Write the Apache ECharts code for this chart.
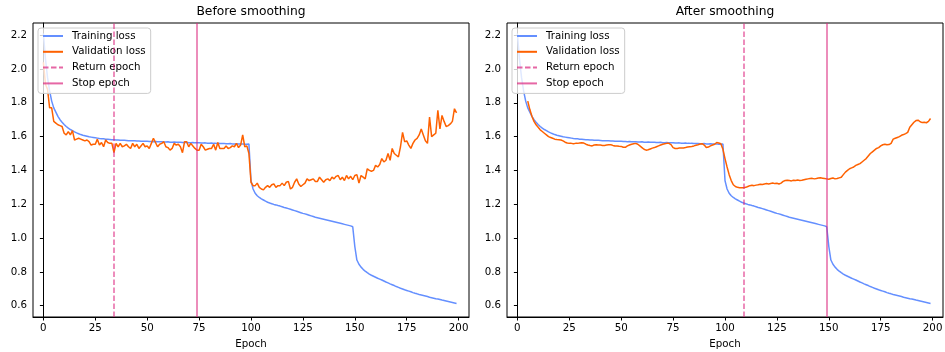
<!DOCTYPE html>
<html>
<head>
<meta charset="utf-8">
<script src="https://cdn.jsdelivr.net/npm/echarts@6/dist/echarts.min.js"></script>
<style>
  html, body { margin: 0; padding: 0; background: #fff; }
  #chart { width: 945px; height: 352px; }
</style>
</head>
<body>
<div id="chart"></div>
<script>
// epochs are the array index (0..199)
const trainLoss = [
  2.21, 2.06, 1.95, 1.87, 1.81, 1.77, 1.745, 1.72, 1.70, 1.685,
  1.672, 1.66, 1.65, 1.642, 1.635, 1.628, 1.622, 1.617, 1.612, 1.608,
  1.605, 1.602, 1.599, 1.597, 1.595, 1.593, 1.591, 1.589, 1.588, 1.587,
  1.585, 1.584, 1.583, 1.582, 1.581, 1.580, 1.580, 1.579, 1.578, 1.578,
  1.577, 1.576, 1.576, 1.575, 1.575, 1.574, 1.574, 1.573, 1.573, 1.572,
  1.572, 1.571, 1.571, 1.570, 1.571, 1.569, 1.569, 1.570, 1.568, 1.568,
  1.569, 1.567, 1.567, 1.568, 1.566, 1.566, 1.567, 1.565, 1.565, 1.566,
  1.564, 1.564, 1.565, 1.563, 1.563, 1.564, 1.562, 1.562, 1.563, 1.561,
  1.561, 1.562, 1.560, 1.560, 1.561, 1.559, 1.559, 1.560, 1.558, 1.558,
  1.559, 1.557, 1.557, 1.558, 1.556, 1.556, 1.557, 1.555, 1.555, 1.556,
  1.34, 1.29, 1.265, 1.25, 1.24, 1.232, 1.225, 1.218, 1.212, 1.207,
  1.203, 1.199, 1.196, 1.192, 1.189, 1.185, 1.181, 1.178, 1.174, 1.170,
  1.166, 1.162, 1.158, 1.154, 1.150, 1.146, 1.143, 1.139, 1.135, 1.131,
  1.127, 1.123, 1.120, 1.117, 1.114, 1.111, 1.108, 1.105, 1.102, 1.099,
  1.096, 1.093, 1.090, 1.087, 1.084, 1.081, 1.078, 1.075, 1.072, 1.067,
  0.95, 0.87, 0.845, 0.828, 0.815, 0.804, 0.795, 0.787, 0.780, 0.774,
  0.768, 0.762, 0.757, 0.752, 0.746, 0.740, 0.735, 0.729, 0.724, 0.719,
  0.713, 0.708, 0.703, 0.699, 0.694, 0.690, 0.686, 0.682, 0.677, 0.673,
  0.670, 0.666, 0.663, 0.660, 0.657, 0.654, 0.650, 0.647, 0.644, 0.641,
  0.639, 0.636, 0.633, 0.631, 0.628, 0.625, 0.622, 0.619, 0.616, 0.613
]

const valLossRaw = [
  2.04, 1.91, 1.88, 1.77, 1.77, 1.69, 1.68, 1.67, 1.665, 1.66,
  1.62, 1.61, 1.63, 1.61, 1.635, 1.58, 1.585, 1.59, 1.585, 1.58,
  1.575, 1.58, 1.57, 1.55, 1.555, 1.555, 1.585, 1.55, 1.565, 1.54,
  1.58, 1.565, 1.56, 1.56, 1.505, 1.56, 1.54, 1.56, 1.54, 1.545,
  1.555, 1.54, 1.53, 1.56, 1.54, 1.555, 1.53, 1.545, 1.56, 1.54,
  1.545, 1.53, 1.56, 1.59, 1.565, 1.54, 1.555, 1.56, 1.57, 1.54,
  1.535, 1.52, 1.53, 1.56, 1.55, 1.555, 1.54, 1.505, 1.57, 1.57,
  1.54, 1.56, 1.545, 1.53, 1.52, 1.52, 1.555, 1.54, 1.52, 1.525,
  1.53, 1.53, 1.555, 1.52, 1.565, 1.53, 1.53, 1.53, 1.545, 1.53,
  1.535, 1.545, 1.54, 1.56, 1.535, 1.55, 1.61, 1.54, 1.545, 1.50,
  1.33, 1.31, 1.31, 1.325, 1.30, 1.29, 1.285, 1.30, 1.31, 1.30,
  1.315, 1.32, 1.30, 1.31, 1.31, 1.325, 1.31, 1.33, 1.335, 1.29,
  1.30, 1.33, 1.35, 1.32, 1.305, 1.315, 1.325, 1.35, 1.34, 1.345,
  1.35, 1.335, 1.335, 1.36, 1.345, 1.33, 1.345, 1.35, 1.34, 1.36,
  1.35, 1.365, 1.37, 1.345, 1.36, 1.34, 1.37, 1.35, 1.365, 1.345,
  1.37, 1.375, 1.325, 1.37, 1.36, 1.35, 1.41, 1.40, 1.395, 1.40,
  1.43, 1.42, 1.435, 1.47, 1.45, 1.46, 1.50, 1.46, 1.53, 1.50,
  1.49, 1.48, 1.54, 1.625, 1.57, 1.575, 1.55, 1.53, 1.56, 1.58,
  1.59, 1.61, 1.645, 1.61, 1.575, 1.56, 1.715, 1.60, 1.61, 1.62,
  1.755, 1.645, 1.725, 1.69, 1.66, 1.665, 1.675, 1.69, 1.765, 1.74
]

const valLossSmooth = [
  null, null, null, null, null, 1.81, 1.76, 1.72, 1.69, 1.67,
  1.655, 1.64, 1.63, 1.62, 1.61, 1.60, 1.595, 1.59, 1.585, 1.583,
  1.582, 1.58, 1.575, 1.567, 1.562, 1.56, 1.56, 1.558, 1.56, 1.56,
  1.562, 1.563, 1.562, 1.555, 1.55, 1.547, 1.545, 1.55, 1.552, 1.551,
  1.55, 1.548, 1.548, 1.55, 1.552, 1.552, 1.548, 1.545, 1.545, 1.543,
  1.542, 1.537, 1.537, 1.545, 1.55, 1.555, 1.558, 1.56, 1.555, 1.545,
  1.535, 1.525, 1.52, 1.522, 1.527, 1.532, 1.535, 1.54, 1.545, 1.55,
  1.555, 1.558, 1.56, 1.56, 1.553, 1.535, 1.53, 1.53, 1.532, 1.532,
  1.533, 1.535, 1.538, 1.54, 1.542, 1.545, 1.549, 1.552, 1.556, 1.558,
  1.55, 1.535, 1.538, 1.545, 1.55, 1.555, 1.565, 1.562, 1.558, 1.525,
  1.47, 1.42, 1.375, 1.34, 1.315, 1.305, 1.30, 1.298, 1.297, 1.298,
  1.30, 1.305, 1.31, 1.312, 1.31, 1.313, 1.315, 1.318, 1.317, 1.32,
  1.322, 1.32, 1.323, 1.325, 1.322, 1.324, 1.32, 1.325, 1.335, 1.34,
  1.342, 1.34, 1.338, 1.342, 1.34, 1.343, 1.34, 1.342, 1.345, 1.348,
  1.35, 1.352, 1.353, 1.35, 1.352, 1.355, 1.356, 1.354, 1.352, 1.35,
  1.348, 1.352, 1.355, 1.35, 1.352, 1.356, 1.36, 1.375, 1.39, 1.40,
  1.41, 1.415, 1.42, 1.43, 1.435, 1.44, 1.45, 1.46, 1.47, 1.485,
  1.50, 1.51, 1.52, 1.53, 1.535, 1.545, 1.552, 1.555, 1.552, 1.553,
  1.56, 1.585, 1.59, 1.595, 1.60, 1.608, 1.612, 1.618, 1.625, 1.655,
  1.67, 1.685, 1.695, 1.697, 1.688, 1.683, 1.685, 1.682, 1.69, 1.707
]

const returnEpochs = [34, 109]
const stopEpochs = [74, 149]
const titles = ['Before smoothing', 'After smoothing']
const xTicks = [0, 25, 50, 75, 100, 125, 150, 175, 200]
const yTicks = [0.6, 0.8, 1.0, 1.2, 1.4, 1.6, 1.8, 2.0, 2.2]
const legendNames = ['Training loss', 'Validation loss', 'Return epoch', 'Stop epoch']

const FONT = 'DejaVu Sans'
const C_TRAIN = '#648FFF'
const C_VAL = '#FE6100'
const C_EPOCH = '#DC267F'

const toPairs = arr => arr.map((v, i) => [i, v])

const grids = [
  { left: 33, right: 476, top: 23, bottom: 35 },
  { left: 507, right: 2, top: 23, bottom: 35 }
]

function xAxisFor(i) {
  return {
    type: 'value', gridIndex: i, min: -5, max: 205,
    axisLine: { show: true, lineStyle: { color: '#000', width: 1 } },
    axisTick: { show: true, customValues: xTicks, length: 3.5, lineStyle: { color: '#000' } },
    axisLabel: { customValues: xTicks, color: '#000', fontSize: 10.25, fontFamily: FONT, margin: 6 },
    splitLine: { show: false },
    name: 'Epoch', nameLocation: 'middle', nameGap: 22,
    nameTextStyle: { color: '#000', fontSize: 10.25, fontFamily: FONT }
  }
}

function yAxisFor(i) {
  return {
    type: 'value', gridIndex: i, min: 0.533, max: 2.272,
    axisLine: { show: true, lineStyle: { color: '#000', width: 1 } },
    axisTick: { show: true, customValues: yTicks, length: 3.5, lineStyle: { color: '#000' } },
    axisLabel: {
      customValues: yTicks, color: '#000', fontSize: 10.25, fontFamily: FONT, margin: 6,
      formatter: v => v.toFixed(1)
    },
    splitLine: { show: false }
  }
}

function vline(name, x, i, dashed) {
  const ls = { color: C_EPOCH, width: 1.5, opacity: 0.7, type: dashed ? [5.5, 2.5] : 'solid' }
  return {
    name: name, type: 'line', xAxisIndex: i, yAxisIndex: i, data: [],
    symbol: 'none', color: C_EPOCH, lineStyle: ls, z: 5,
    markLine: {
      silent: true, symbol: ['none', 'none'], label: { show: false },
      lineStyle: ls, animation: false,
      data: [{ xAxis: x }]
    }
  }
}

function lineSeries(name, data, color, i) {
  return {
    name: name, type: 'line', xAxisIndex: i, yAxisIndex: i,
    data: toPairs(data), symbol: 'none', showSymbol: false,
    color: color, lineStyle: { color: color, width: 1.5 },
    emphasis: { disabled: true }
  }
}

const series = []
const valSets = [valLossRaw, valLossSmooth]
for (let i = 0; i < 2; i++) {
  series.push(lineSeries('Training loss', trainLoss, C_TRAIN, i))
  series.push(lineSeries('Validation loss', valSets[i], C_VAL, i))
  series.push(vline('Return epoch', returnEpochs[i], i, true))
  series.push(vline('Stop epoch', stopEpochs[i], i, false))
}

function legendFor(left) {
  return {
    data: legendNames, orient: 'vertical', left: left, top: 28,
    itemWidth: 20, itemHeight: 10, itemGap: 5.8,
    padding: [3, 5, 5, 4],
    backgroundColor: 'rgba(255,255,255,0.8)',
    borderColor: '#cccccc', borderWidth: 1, borderRadius: 3,
    selectedMode: false,
    itemStyle: { opacity: 0 },
    textStyle: { color: '#000', fontSize: 10.25, fontFamily: FONT, padding: [0, 0, 0, 4] }
  }
}

const chart = echarts.init(document.getElementById('chart'), null, { renderer: 'canvas' })
chart.setOption({
  animation: false,
  backgroundColor: '#fff',
  textStyle: { fontFamily: FONT },
  grid: grids.map(g => Object.assign({
    show: true, borderColor: '#000', borderWidth: 1, outerBoundsMode: 'none', containLabel: false
  }, g)),
  xAxis: [xAxisFor(0), xAxisFor(1)],
  yAxis: [yAxisFor(0), yAxisFor(1)],
  legend: [legendFor(38), legendFor(512)],
  graphic: titles.map((t, i) => ({
    type: 'text',
    x: i === 0 ? 251 : 725,
    y: 12,
    style: {
      text: t, fontSize: 12.3, fontFamily: FONT, fill: '#000',
      textAlign: 'center', textVerticalAlign: 'middle'
    }
  })),
  series: series
})
</script>
</body>
</html>
